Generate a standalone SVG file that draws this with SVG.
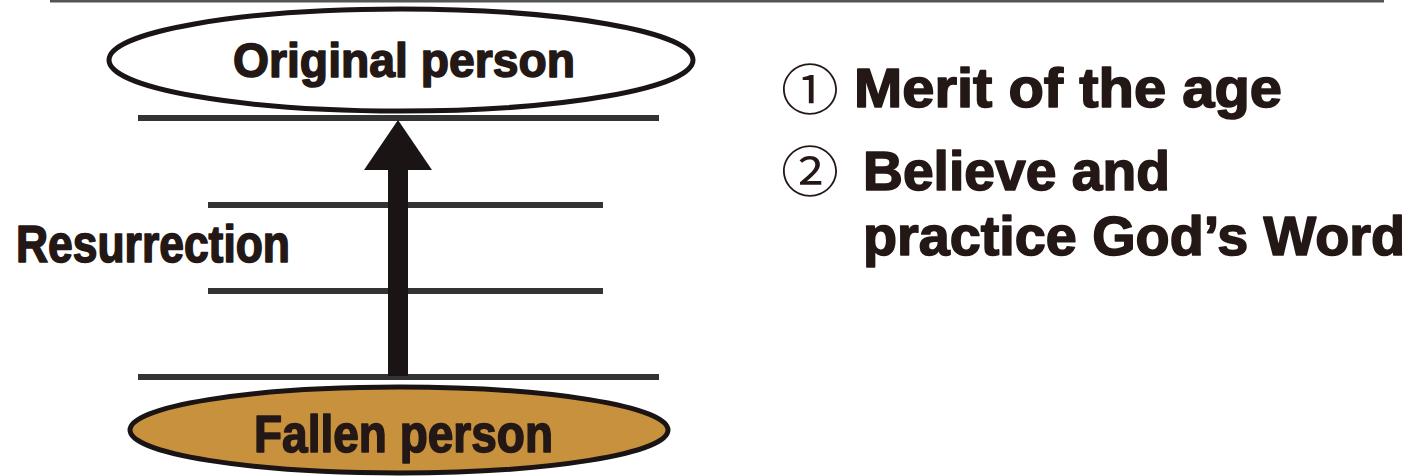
<svg xmlns="http://www.w3.org/2000/svg" width="1416" height="476" viewBox="0 0 1416 476">
<style>
.t{font-family:"Liberation Sans",Arial,sans-serif;font-weight:bold;fill:#231815;stroke:#231815;stroke-width:1.6;stroke-linejoin:round}
.lvl{stroke:#333;stroke-width:6}
.num{font-family:"Noto Sans CJK JP","DejaVu Sans",sans-serif;font-weight:normal;fill:#231815}
</style>
<rect width="1416" height="476" fill="#fff"/>
<line x1="50" y1="1" x2="1384" y2="1" stroke="#555" stroke-width="3"/>
<g id="connectors">
<line class="lvl" x1="138" y1="118" x2="659" y2="118"/>
<line class="lvl" x1="208" y1="205" x2="603" y2="205"/>
<line class="lvl" x1="208" y1="291" x2="603" y2="291"/>
<line class="lvl" x1="138" y1="377" x2="659" y2="377"/>
<rect x="388" y="168" width="20" height="208" fill="#1a1414"/>
<polygon points="398,120 432,170 364,170" fill="#1a1414"/>
</g>
<g id="original">
<ellipse cx="401" cy="60" rx="292" ry="51" fill="#fff" stroke="#1a1414" stroke-width="5"/>
<text class="t" x="233" y="77" font-size="49" textLength="342" lengthAdjust="spacingAndGlyphs">Original person</text>
</g>
<g id="fallen">
<ellipse cx="399" cy="430" rx="269" ry="43" fill="#C8913D" stroke="#1a1414" stroke-width="5"/>
<text class="t" x="254" y="452" font-size="51" textLength="299" lengthAdjust="spacingAndGlyphs">Fallen person</text>
</g>
<g id="resurrection">
<text class="t" x="16" y="262" font-size="51" textLength="274" lengthAdjust="spacingAndGlyphs">Resurrection</text>
</g>
<g id="points">
<text class="num" x="781" y="110" font-size="54" textLength="58" lengthAdjust="spacingAndGlyphs">①</text>
<text class="t" x="854" y="107" font-size="55" textLength="428" lengthAdjust="spacingAndGlyphs">Merit of the age</text>
<text class="num" x="781" y="192" font-size="54" textLength="58" lengthAdjust="spacingAndGlyphs">②</text>
<text class="t" x="863" y="190" font-size="55" textLength="307" lengthAdjust="spacingAndGlyphs">Believe and</text>
<text class="t" x="863" y="255" font-size="55" textLength="542" lengthAdjust="spacingAndGlyphs">practice God’s Word</text>
</g>
</svg>
